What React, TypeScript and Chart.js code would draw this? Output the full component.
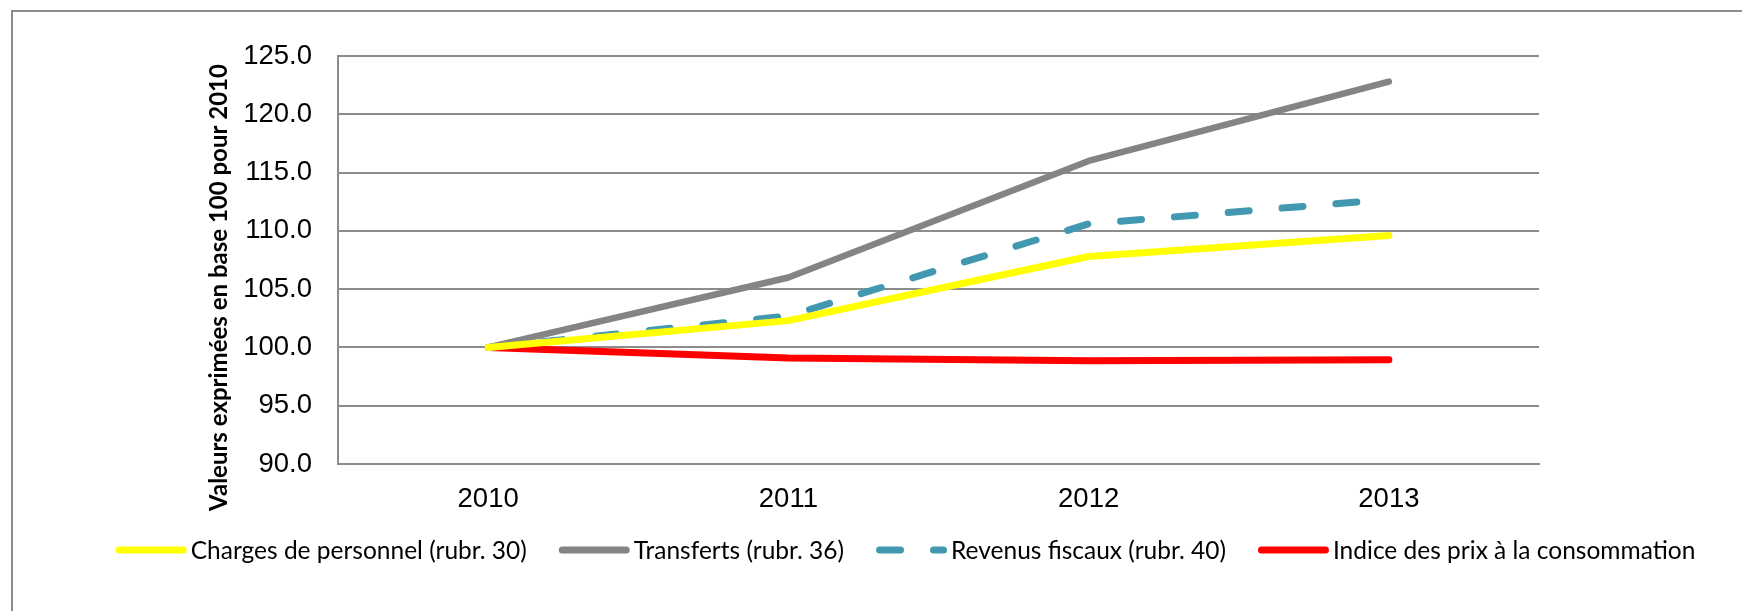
import React, { useEffect, useRef } from "react";
import { Chart, registerables } from "chart.js";

Chart.register(...registerables);

const categories = ["2010", "2011", "2012", "2013"];
const chargesPersonnel = [100, 102.3, 107.8, 109.6];
const transferts = [100, 106.0, 116.0, 122.8];
const revenusFiscaux = [100, 102.7, 110.6, 112.7];
const indicePrix = [100, 99.1, 98.85, 98.95];
const seriesLabels = [
  "Charges de personnel (rubr. 30)",
  "Transferts (rubr. 36)",
  "Revenus fiscaux (rubr. 40)",
  "Indice des prix à la consommation",
];
const yMin = 90;
const yMax = 125;
const yStep = 5;
const yTitle = "Valeurs exprimées en base 100 pour 2010";

const W = 1742;
const H = 611;
const GRID = "#8c8c8c";
const TICK_FONT = "'Liberation Sans', Arial, sans-serif";
const LEGEND_FONT_SIZE = 24.5;
const TITLE_FONT_SIZE = 24;

const framePlugin = {
  id: "frame",
  beforeDraw(chart: any) {
    const ctx = chart.ctx;
    ctx.save();
    ctx.fillStyle = "#fff";
    ctx.fillRect(0, 0, W, H);
    ctx.strokeStyle = GRID;
    ctx.lineWidth = 2;
    ctx.beginPath();
    ctx.moveTo(12, H + 5);
    ctx.lineTo(12, 11);
    ctx.lineTo(W + 5, 11);
    ctx.stroke();
    ctx.restore();
  },
};

const legendTitlePlugin = {
  id: "legendTitle",
  afterDraw(chart: any) {
    const ctx = chart.ctx;
    ctx.save();
    // y axis title
    ctx.translate(219, 287.5);
    ctx.rotate(-Math.PI / 2);
    ctx.font = `bold ${TITLE_FONT_SIZE}px Lato, sans-serif`;
    ctx.fillStyle = "#000";
    ctx.textAlign = "center";
    ctx.textBaseline = "middle";
    ctx.fillText(yTitle, 0, 0);
    ctx.restore();

    ctx.save();
    ctx.font = `${LEGEND_FONT_SIZE}px Lato, sans-serif`;
    const sample = 71;
    const gapText = 4;
    const gapItem = 32;
    const items = chart.data.datasets.map((ds: any) => ({
      ds,
      w: ctx.measureText(ds.label).width,
    }));
    const total =
      items.reduce((s: number, it: any) => s + sample + gapText + it.w, 0) +
      gapItem * (items.length - 1);
    let x = 905.5 - total / 2;
    const y = 550;
    items.forEach(({ ds, w }: any) => {
      ctx.beginPath();
      ctx.lineWidth = 7;
      ctx.lineCap = "round";
      ctx.strokeStyle = ds.borderColor;
      ctx.setLineDash(ds.borderDash || []);
      ctx.moveTo(x + 3.5, y);
      ctx.lineTo(x + sample - 3.5, y);
      ctx.stroke();
      ctx.setLineDash([]);
      ctx.fillStyle = "#000";
      ctx.textAlign = "left";
      ctx.textBaseline = "alphabetic";
      ctx.fillText(ds.label, x + sample + gapText, y + 8.5);
      x += sample + gapText + w + gapItem;
    });
    ctx.restore();
  },
};

export default function App() {
  const canvasRef = useRef<HTMLCanvasElement | null>(null);

  useEffect(() => {
    document.body.style.margin = "0";
    const canvas = canvasRef.current;
    if (!canvas) return;
    const chart = new Chart(canvas, {
      type: "line",
      data: {
        labels: categories,
        datasets: [
          {
            label: seriesLabels[0],
            data: chargesPersonnel,
            borderColor: "#ffff00",
            borderWidth: 7,
          },
          {
            label: seriesLabels[1],
            data: transferts,
            borderColor: "#848484",
            borderWidth: 6.5,
          },
          {
            label: seriesLabels[2],
            data: revenusFiscaux,
            borderColor: "#4198b0",
            borderWidth: 7,
            borderDash: [21, 33],
          },
          {
            label: seriesLabels[3],
            data: indicePrix,
            borderColor: "#ff0000",
            borderWidth: 7,
          },
        ] as any,
      },
      options: {
        animation: false,
        responsive: false,
        devicePixelRatio: 1,
        layout: { padding: { left: 0, top: 56, right: 203, bottom: 0 } },
        plugins: {
          legend: { display: false },
          tooltip: { enabled: false },
        },
        elements: {
          point: { radius: 0 },
          line: {
            tension: 0,
            borderCapStyle: "round",
            borderJoinStyle: "round",
          },
        },
        scales: {
          x: {
            type: "category",
            offset: true,
            grid: { display: false, drawTicks: false },
            border: { display: true, color: GRID, width: 2 },
            ticks: {
              color: "#000",
              font: { family: TICK_FONT, size: 27.5 },
              padding: 19,
              maxRotation: 0,
            },
            afterFit: (s: any) => {
              s.height = 147;
            },
          },
          y: {
            min: yMin,
            max: yMax,
            ticks: {
              stepSize: yStep,
              padding: 26,
              color: "#000",
              font: { family: TICK_FONT, size: 27.5 },
              callback: (v: any) => Number(v).toFixed(1),
            },
            grid: { color: GRID, lineWidth: 2, drawTicks: false },
            border: { display: true, color: GRID, width: 2 },
            afterFit: (s: any) => {
              s.width = 338;
            },
          },
        },
      } as any,
      plugins: [framePlugin, legendTitlePlugin],
    });
    return () => chart.destroy();
  }, []);

  return (
    <div style={{ width: W, height: H }}>
      <canvas ref={canvasRef} width={W} height={H} style={{ display: "block" }} />
    </div>
  );
}
